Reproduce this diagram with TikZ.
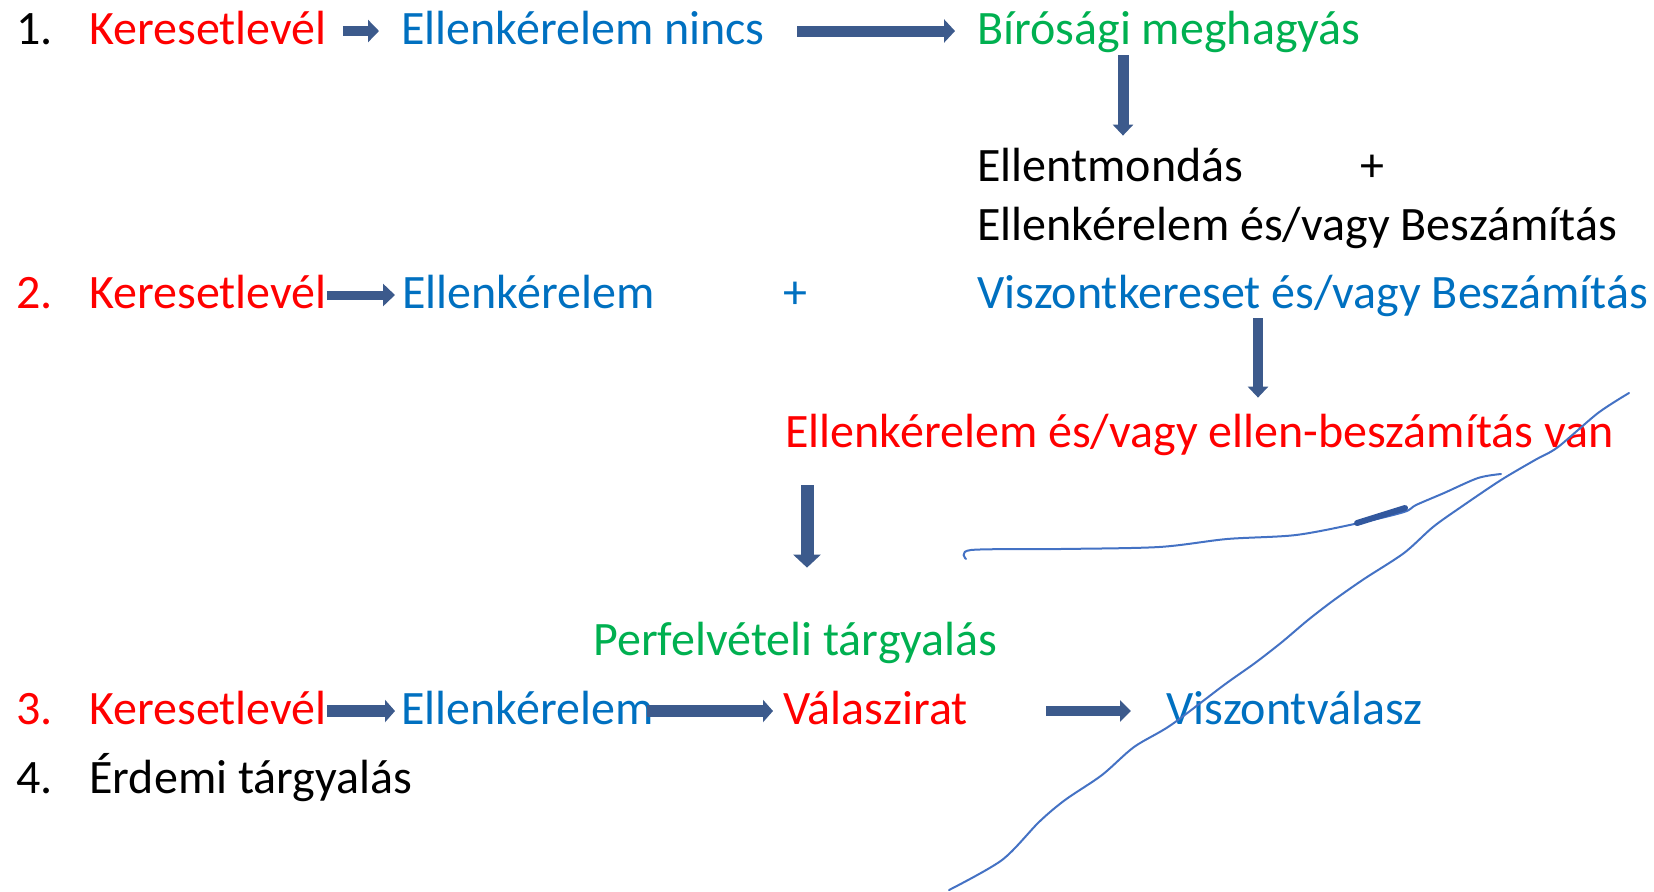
\documentclass[tikz,border=0pt]{standalone}
\usepackage{fontspec}
\setmainfont{Carlito}
\usetikzlibrary{arrows.meta}
\usetikzlibrary{calc}
\definecolor{kred}{RGB}{255,0,0}
\definecolor{kblue}{RGB}{0,112,192}
\definecolor{kgreen}{RGB}{0,176,80}
\definecolor{arrowc}{RGB}{60,90,140}
\definecolor{inkc}{RGB}{68,114,196}
\definecolor{inkdark}{RGB}{50,88,158}
\tikzset{
  txt/.style={anchor=base west, inner sep=0pt, text height=18pt, text depth=5pt,
    font=\fontsize{24pt}{28pt}\selectfont},
  blockarrow/.style n args={3}{arrowc, line width=#1, -{Triangle[width=#2,length=#3]}},
  ink/.style={inkc, line width=1pt, line cap=round, line join=round}
}

\begin{document}
\begin{tikzpicture}[x=0.5pt,y=-0.5pt]
    \useasboundingbox (0,0) rectangle (1654,891);
    % 1. sor
    \node[txt] (n1) at (16,44) {1.};
    \node[txt,kred] (kl1) at (89,44) {Keresetlevél};
    \node[txt,kblue] (en1) at (401,44) {Ellenkérelem nincs};
    \node[txt,kgreen] (bm) at (977,44) {Bírósági meghagyás};
    \node[txt] (elm) at (977,181) {Ellentmondás};
    \node[txt,anchor=base] (p1) at (1372,181) {+};
    \node[txt] (ebs) at (977,240) {Ellenkérelem és/vagy Beszámítás};
    \draw[blockarrow={5pt}{11pt}{5.5pt}, shorten <=8pt, shorten >=11pt] (kl1) -- (en1);
    \draw[blockarrow={5.5pt}{11.5pt}{5.5pt}, shorten <=16pt, shorten >=11pt] (en1) -- (bm);
    \draw[blockarrow={5.5pt}{10pt}{5.5pt}, shorten <=0.5pt, shorten >=4.5pt]
      ($(bm.south west)+(146,0)$) -- ($(elm.north west)+(146,0)$);
    % 2. sor
    \node[txt,kred] (n2) at (16,308) {2.};
    \node[txt,kred] (kl2) at (89,308) {Keresetlevél};
    \node[txt,kblue] (ek2) at (402,308) {Ellenkérelem};
    \node[txt,kblue,anchor=base] (p2) at (795,308) {+};
    \node[txt,kblue] (vk) at (977,308) {Viszontkereset és/vagy Beszámítás};
    \node[txt,kred] (evan) at (785,447) {Ellenkérelem és/vagy ellen-beszámítás van};
    \draw[blockarrow={4.5pt}{11pt}{6pt}, shorten <=0pt, shorten >=3.5pt] (kl2) -- (ek2);
    \draw[blockarrow={5pt}{10pt}{5.5pt}, shorten >=6.5pt]
      ($(vk.south west)+(281,0)$) -- ($(vk.south west |- evan.north)+(281,0)$);
    \node[txt,kgreen] (pt) at (593,655) {Perfelvételi tárgyalás};
    \draw[blockarrow={6.5pt}{13.5pt}{6.5pt}, shorten <=14pt, shorten >=25.5pt]
      ($(evan.south west)+(22,0)$) -- ($(evan.south west |- pt.north)+(22,0)$);
    % 3. sor
    \node[txt,kred] (n3) at (16,724) {3.};
    \node[txt,kred] (kl3) at (89,724) {Keresetlevél};
    \node[txt,kblue] (ek3) at (401,724) {Ellenkérelem};
    \node[txt,kred] (va) at (783,724) {Válaszirat};
    \node[txt,kblue] (vv) at (1166,724) {Viszontválasz};
    \draw[blockarrow={6pt}{11pt}{5pt}, shorten <=0pt, shorten >=3pt] (kl3) -- (ek3);
    \draw[blockarrow={6pt}{11pt}{5pt}, shorten <=-3.5pt, shorten >=5pt] (ek3) -- (va);
    \draw[blockarrow={5pt}{10.5pt}{5.5pt}, shorten <=39pt, shorten >=17.5pt] (va) -- (vv);
    % 4. sor
    \node[txt] (n4) at (16,793) {4.};
    \node[txt] (et) at (89,793) {Érdemi tárgyalás};
    % kézi vonalak
    \draw[ink] plot[smooth] coordinates {(949,890) (1002,860) (1039,822) (1065,800)
      (1102,775) (1134,747) (1171,725) (1224,685) (1255,663) (1282,642) (1308,620)
      (1334,600) (1364,579) (1404,553) (1433,527) (1461,507) (1501,480) (1535,460)
      (1558,447) (1598,413) (1629,393)};
    \draw[ink] plot[smooth] coordinates {(966,559) (971,550) (1060,549) (1159,547)
      (1227,539) (1296,535) (1359,523) (1404,512) (1416,505) (1444,493) (1478,478)
      (1501,474)};
    \draw[inkdark, line width=3pt, line cap=round] (1357,523) -- (1405,508);
\end{tikzpicture}
\end{document}
